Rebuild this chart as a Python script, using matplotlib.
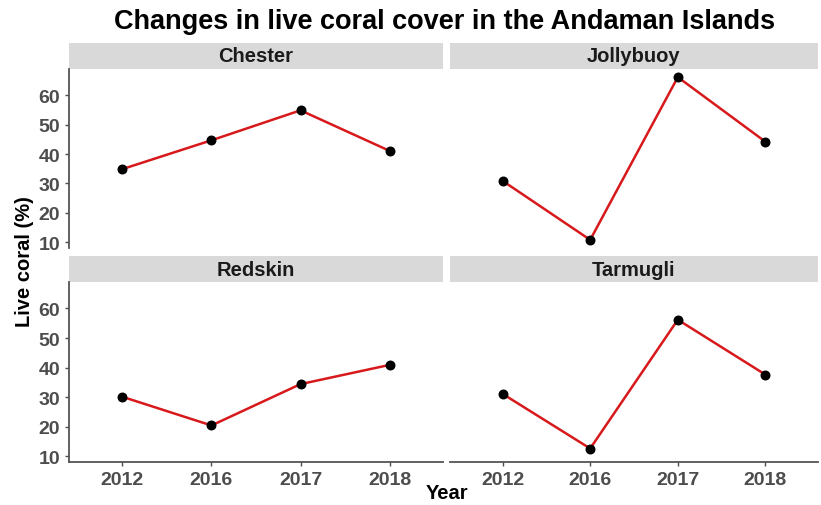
import matplotlib.pyplot as plt

# live coral cover (%) per site and survey year
years = ["2012", "2016", "2017", "2018"]
sites = ["Chester", "Jollybuoy", "Redskin", "Tarmugli"]
chester = [34.9, 44.7, 54.9, 41.1]
jollybuoy = [30.9, 10.8, 66.2, 44.2]
redskin = [30.1, 20.4, 34.4, 40.9]
tarmugli = [31.1, 12.6, 56.2, 37.6]
cover = [chester, jollybuoy, redskin, tarmugli]
y_ticks = [10, 20, 30, 40, 50, 60]

plt.rcParams['font.family'] = ['Liberation Sans', 'DejaVu Sans']

W, H = 821, 506
fig = plt.figure(figsize=(W / 100, H / 100), dpi=100)


def px_axes(x0, y0, x1, y1):
    # axes placed by pixel box (top-left origin)
    return fig.add_axes([x0 / W, 1 - y1 / H, (x1 - x0) / W, (y1 - y0) / H])


cols = [(69, 443), (450, 818)]
rows = [((44, 70), (70, 249)), ((257, 283), (283, 463))]

lo = min(min(v) for v in cover)
hi = max(max(v) for v in cover)
pad = (hi - lo) * 0.05

tick_col = '#4D4D4D'
for i, (site, vals) in enumerate(zip(sites, cover)):
    r, c = divmod(i, 2)
    (sy0, sy1), (py0, py1) = rows[r]
    x0, x1 = cols[c]

    strip = px_axes(x0, sy0, x1, sy1)
    strip.set_facecolor('#D9D9D9')
    strip.set_xticks([])
    strip.set_yticks([])
    for s in strip.spines.values():
        s.set_visible(False)
    strip.text(0.5, 0.5, site, ha='center', va='center', fontsize=14.5,
               fontweight='bold', color='#1A1A1A', transform=strip.transAxes)

    ax = px_axes(x0, py0, x1, py1)
    xs = range(len(years))
    ax.plot(xs, vals, color='#D7191C', lw=1.8, zorder=2)
    ax.scatter(xs, vals, s=38, color='black', zorder=3)
    ax.set_xlim(-0.6, len(years) - 0.4)
    ax.set_ylim(lo - pad, hi + pad)
    ax.set_xticks(list(xs))
    ax.set_yticks(y_ticks)
    for s in ['top', 'right']:
        ax.spines[s].set_visible(False)
    ax.spines['left'].set_visible(c == 0)
    ax.spines['bottom'].set_visible(r == 1)
    for s in ['left', 'bottom']:
        ax.spines[s].set_color('#555555')
        ax.spines[s].set_linewidth(1.3)
    ax.tick_params(colors=tick_col, labelsize=14, length=3, width=1)
    if r == 1:
        ax.set_xticklabels(years, fontweight='bold', color=tick_col)
    else:
        ax.tick_params(axis='x', bottom=False, labelbottom=False)
    if c == 0:
        ax.set_yticklabels([str(t) for t in y_ticks], fontweight='bold',
                           color=tick_col)
    else:
        ax.tick_params(axis='y', left=False, labelleft=False)

fig.text(445 / W, 1 - 22 / H, "Changes in live coral cover in the Andaman Islands",
         ha='center', va='center', fontsize=19.5, fontweight='bold', color='black')
fig.text(25 / W, 1 - 262 / H, "Live coral (%)", rotation=90, ha='center',
         va='center', fontsize=14.5, fontweight='bold', color='black')
fig.text(447 / W, 1 - 494 / H, "Year", ha='center', va='center',
         fontsize=14.5, fontweight='bold', color='black')

fig.savefig('out.png', dpi=100)
